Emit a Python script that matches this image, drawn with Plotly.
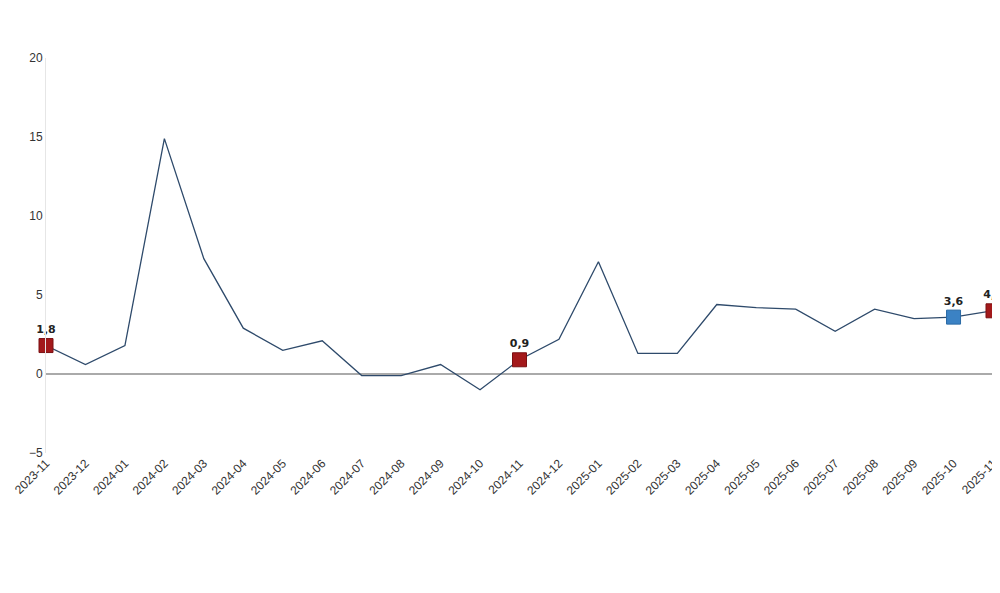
import plotly.graph_objects as go

months = ["2023-11", "2023-12", "2024-01", "2024-02", "2024-03", "2024-04", "2024-05",
          "2024-06", "2024-07", "2024-08", "2024-09", "2024-10", "2024-11", "2024-12",
          "2025-01", "2025-02", "2025-03", "2025-04", "2025-05", "2025-06", "2025-07",
          "2025-08", "2025-09", "2025-10", "2025-11"]
values = [1.8, 0.6, 1.8, 14.9, 7.3, 2.9, 1.5, 2.1, -0.1, -0.1, 0.6, -1.0, 0.9, 2.2,
          7.1, 1.3, 1.3, 4.4, 4.2, 4.1, 2.7, 4.1, 3.5, 3.6, 4.0]
red_months = ["2023-11", "2024-11", "2025-11"]
red_values = [1.8, 0.9, 4.0]
red_labels = ["1,8", "0,9", "4,0"]
blue_months = ["2025-10"]
blue_values = [3.6]
blue_labels = ["3,6"]

lbl_font = dict(size=11, color="#222", family="DejaVu Sans")

fig = go.Figure()
fig.add_trace(go.Scatter(x=months, y=values, mode="lines",
                         line=dict(color="#2e4a6b", width=1.3), hoverinfo="skip"))
fig.add_trace(go.Scatter(x=red_months, y=red_values, mode="markers+text",
                         text=["<b>%s</b>" % t for t in red_labels], textposition="top center",
                         textfont=lbl_font, cliponaxis=False,
                         marker=dict(symbol="square", size=14, color="#a3191b",
                                     line=dict(color="#7a1012", width=1))))
fig.add_trace(go.Scatter(x=blue_months, y=blue_values, mode="markers+text",
                         text=["<b>%s</b>" % t for t in blue_labels], textposition="top center",
                         textfont=lbl_font, cliponaxis=False,
                         marker=dict(symbol="square", size=14, color="#3b82c4",
                                     line=dict(color="#2a6aa5", width=1))))

fig.update_layout(
    width=1000, height=593, showlegend=False,
    paper_bgcolor="white", plot_bgcolor="white",
    margin=dict(l=38, r=15, t=50, b=148),
    font=dict(family="Liberation Sans, Arial", size=12, color="#333"),
)
fig.update_xaxes(type="category", tickangle=-45, showgrid=False, showline=False,
                 ticks="", range=[0, len(months) - 1], tickfont=dict(size=12, color="#333"),
                 automargin=False)
fig.update_yaxes(range=[-5, 20], dtick=5, showgrid=False, zeroline=True,
                 zerolinecolor="#aaaaaa", zerolinewidth=1.5, automargin=False,
                 showline=True, linecolor="#e6e6e6", ticks="", tickfont=dict(size=12, color="#333"))

fig.write_html("out.html")
